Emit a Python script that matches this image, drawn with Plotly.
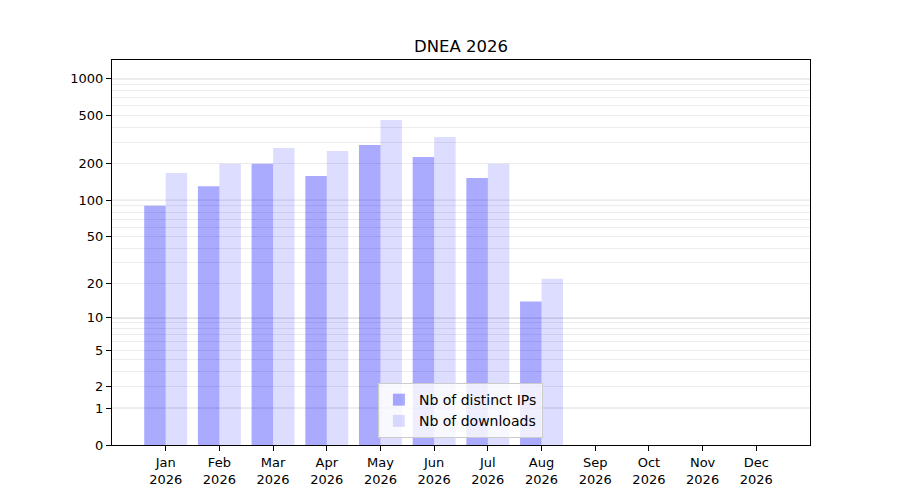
import plotly.graph_objects as go

months = ["Jan", "Feb", "Mar", "Apr", "May", "Jun", "Jul", "Aug", "Sep", "Oct", "Nov", "Dec"]
year = "2026"
distinct_ips = [90, 131, 200, 159, 286, 228, 153, 14, 0, 0, 0, 0]
downloads = [168, 200, 270, 255, 458, 332, 200, 22, 0, 0, 0, 0]
ytick_labels = [0, 1, 2, 5, 10, 20, 50, 100, 200, 500, 1000]
major_grid = [1, 10, 100, 1000]
minor_grid = [2, 3, 4, 5, 6, 7, 8, 9, 20, 30, 40, 50, 60, 70, 80, 90,
              200, 300, 400, 500, 600, 700, 800, 900]

cats = [f"{m}<br>{year}" for m in months]

# y axis is log(1 + value): bars start at base 1 (value 0) and span value units
fig = go.Figure()
fig.add_trace(go.Bar(x=cats, y=distinct_ips, base=1, name="Nb of distinct IPs",
                     marker=dict(color="rgba(0,0,255,0.333)", line=dict(width=0))))
fig.add_trace(go.Bar(x=cats, y=downloads, base=1, name="Nb of downloads",
                     marker=dict(color="rgba(0,0,255,0.133)", line=dict(width=0))))

shapes = []
for g in major_grid:
    shapes.append(dict(type="line", xref="paper", x0=0, x1=1, yref="y", y0=1 + g, y1=1 + g,
                       line=dict(color="#b4b4b4", width=1), layer="below"))

fig.update_layout(
    width=900, height=500,
    paper_bgcolor="white", plot_bgcolor="white",
    margin=dict(l=104, r=98, t=52, b=63),
    font=dict(family="DejaVu Sans", size=13, color="black"),
    title=dict(text="DNEA 2026", x=0.5033, xanchor="center", y=0.924, yanchor="middle",
               font=dict(size=16.5, color="black")),
    barmode="group", bargap=0.2, bargroupgap=0,
    showlegend=True,
    legend=dict(x=0.381, y=0.018, xanchor="left", yanchor="bottom",
                bgcolor="rgba(255,255,255,0.8)", bordercolor="#cccccc", borderwidth=1,
                font=dict(size=14), itemsizing="constant", traceorder="normal",
                tracegroupgap=0),
    shapes=shapes,
)
fig.update_xaxes(type="category", range=[-1, 12], showline=True, linecolor="black", linewidth=1,
                 mirror=True, ticks="outside", ticklen=5, tickcolor="black", showgrid=False,
                 tickfont=dict(size=13))
fig.update_yaxes(type="log", range=[0, 3.154], showline=True, linecolor="black", linewidth=1,
                 mirror=True, ticks="outside", ticklen=5, tickcolor="black",
                 tickmode="array", tickvals=[1 + t for t in ytick_labels],
                 ticktext=[str(t) for t in ytick_labels],
                 showgrid=True, gridcolor="#ececec", gridwidth=1, zeroline=False,
                 tickfont=dict(size=13),
                 minor=dict(tickmode="array", tickvals=[1 + t for t in minor_grid],
                            showgrid=True, gridcolor="#ececec", gridwidth=1, ticks=""))

fig.write_html("out.html")
